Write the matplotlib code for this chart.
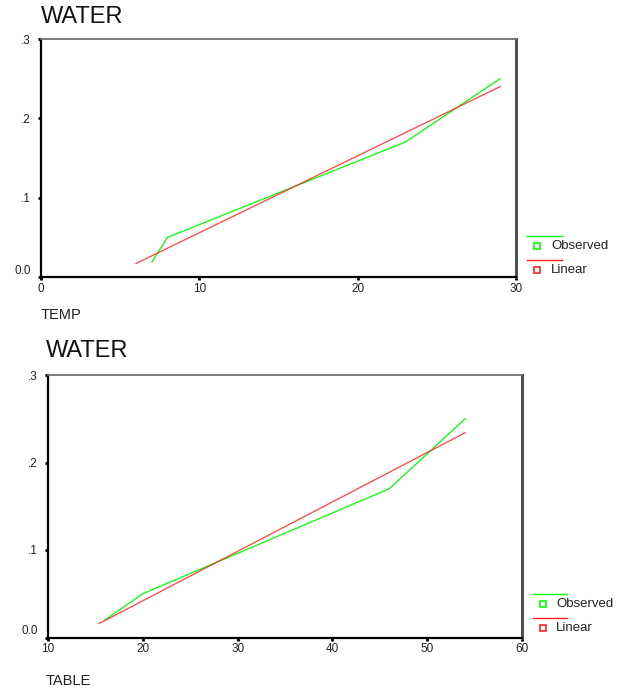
import matplotlib
matplotlib.use('Agg')
import matplotlib.pyplot as plt
from matplotlib.lines import Line2D

plt.rcParams['font.family'] = ['Liberation Sans', 'DejaVu Sans']

# WATER vs TEMP
temp_obs = [7, 8, 23, 29]
water_temp_obs = [0.019, 0.05, 0.17, 0.25]
temp_fit = [6, 29]
water_temp_fit = [0.017, 0.240]

# WATER vs TABLE
table_obs = [16, 20, 46, 54]
water_table_obs = [0.02, 0.05, 0.17, 0.25]
table_fit = [15.4, 54]
water_table_fit = [0.016, 0.234]

temp_ticks = [0, 10, 20, 30]
table_ticks = [10, 20, 30, 40, 50, 60]
y_ticks = [0.0, 0.1, 0.2, 0.3]
y_tick_labels = ['0.0', '.1', '.2', '.3']
legend_labels = ['Observed', 'Linear']

GREEN = '#00ff00'
RED = '#ff2020'
W, H = 623, 689


def fx(x):
    return x / W


def fy(y):
    return 1 - y / H


fig = plt.figure(figsize=(6.23, 6.89), dpi=100)


def panel(box, x_obs, y_obs, x_fit, y_fit, xticks, xlabel, title_pos, label_pos, leg):
    left, top, right, bottom = box
    ax = fig.add_axes([fx(left), fy(bottom), (right - left) / W, (bottom - top) / H])
    ax.plot(x_obs, y_obs, color=GREEN, lw=0.9)
    ax.plot(x_fit, y_fit, color=RED, lw=0.9, alpha=0.85)
    ax.set_xlim(xticks[0], xticks[-1])
    ax.set_ylim(0, 0.3)
    ax.set_xticks(xticks)
    ax.set_xticklabels([str(t) for t in xticks])
    ax.set_yticks(y_ticks)
    ax.set_yticklabels(y_tick_labels)
    ax.yaxis.get_ticklabels()[0].set_va('bottom')
    ax.tick_params(direction='out', length=2.5, width=2, color='black',
                   labelsize=8.5, pad=1.5, labelcolor='#222222')
    ax.tick_params(axis='y', pad=5)
    for s in ['left', 'bottom']:
        ax.spines[s].set_color('black')
        ax.spines[s].set_linewidth(1.6)
    ax.spines['top'].set_color('#707070')
    ax.spines['top'].set_linewidth(1.3)
    ax.spines['right'].set_color('#505050')
    ax.spines['right'].set_linewidth(2.2)

    fig.text(fx(title_pos[0]), fy(title_pos[1]), 'WATER', fontsize=17,
             ha='left', va='center', color='#111111')
    fig.text(fx(label_pos[0]), fy(label_pos[1]), xlabel, fontsize=10.5,
             ha='left', va='center', color='#222222')

    # legend: line on top, small square marker with label below
    x0, x1, xm, xt, y_first = leg
    for i, (c, lab) in enumerate(zip([GREEN, RED], legend_labels)):
        yl = y_first + i * 24
        fig.add_artist(Line2D([fx(x0), fx(x1)], [fy(yl), fy(yl)],
                              transform=fig.transFigure, color=c, lw=1.0))
        fig.add_artist(Line2D([fx(xm)], [fy(yl + 10)], transform=fig.transFigure,
                              marker='s', ms=4, mfc='white', mec=c, mew=1.2,
                              linestyle='none'))
        fig.text(fx(xt), fy(yl + 10), lab, fontsize=9.5, ha='left', va='center',
                 color='#222222')
    return ax


panel((41, 39, 516, 277), temp_obs, water_temp_obs, temp_fit, water_temp_fit,
      temp_ticks, 'TEMP', (41, 17), (41, 315), (527, 562, 537, 551, 236))
panel((48, 375, 522, 637.5), table_obs, water_table_obs, table_fit, water_table_fit,
      table_ticks, 'TABLE', (46, 351), (46, 681), (533, 567, 543, 556, 594))

fig.savefig('out.png', dpi=100)
